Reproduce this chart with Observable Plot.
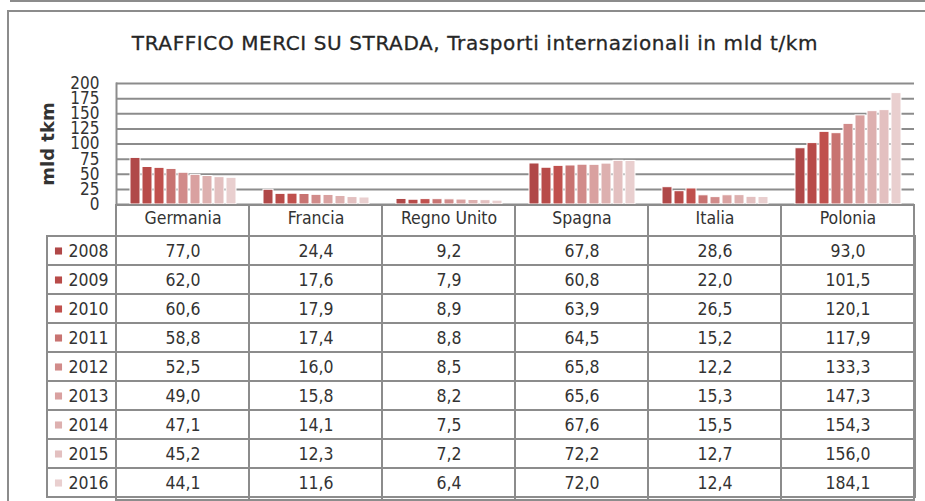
<!DOCTYPE html>
<html><head><meta charset="utf-8">
<script src="https://cdn.jsdelivr.net/npm/d3@7"></script>
<script src="https://cdn.jsdelivr.net/npm/@observablehq/plot@0.6"></script>
<style>
body{margin:0;background:#fff;font-family:"DejaVu Sans Condensed","DejaVu Sans",sans-serif;}
#wrap{position:relative;width:925px;height:501px;overflow:hidden;}
.topline{position:absolute;left:10px;top:0;width:915px;height:2px;background:#8c8c8c;}
.frame{position:absolute;left:7px;top:10px;width:930px;height:500px;border-top:2px solid #8c8c8c;border-left:2px solid #8c8c8c;}
#title{position:absolute;left:0;width:950px;top:32px;line-height:22px;text-align:center;font-family:"DejaVu Sans",sans-serif;font-size:20px;letter-spacing:0.6px;color:#262626;-webkit-text-stroke:0.3px #262626;}
#chart{position:absolute;left:0;top:70px;}
#table{position:absolute;left:0;top:204px;}
#chart g[aria-label="y-axis label"] text{font-family:"DejaVu Sans",sans-serif;font-size:18px;font-weight:bold;}
</style>
</head><body>
<div id="wrap">
<div class="topline"></div>
<div class="frame"></div>
<div id="title">TRAFFICO MERCI SU STRADA, Trasporti internazionali in mld t/km</div>
<div id="chart"></div>
<div id="table"></div>
</div>
<script>
const countries = ["Germania", "Francia", "Regno Unito", "Spagna", "Italia", "Polonia"];
const years = ["2008", "2009", "2010", "2011", "2012", "2013", "2014", "2015", "2016"];
const germania = [77.0, 62.0, 60.6, 58.8, 52.5, 49.0, 47.1, 45.2, 44.1];
const francia = [24.4, 17.6, 17.9, 17.4, 16.0, 15.8, 14.1, 12.3, 11.6];
const regnoUnito = [9.2, 7.9, 8.9, 8.8, 8.5, 8.2, 7.5, 7.2, 6.4];
const spagna = [67.8, 60.8, 63.9, 64.5, 65.8, 65.6, 67.6, 72.2, 72.0];
const italia = [28.6, 22.0, 26.5, 15.2, 12.2, 15.3, 15.5, 12.7, 12.4];
const polonia = [93.0, 101.5, 120.1, 117.9, 133.3, 147.3, 154.3, 156.0, 184.1];
const yTicks = [0, 25, 50, 75, 100, 125, 150, 175, 200];
const yearColors = ["#b04848", "#b84b49", "#c0504d", "#c87371", "#d18b8a", "#d9a1a0", "#ddb0af", "#e3c0c0", "#e9cfcf"];

const series = [germania, francia, regnoUnito, spagna, italia, polonia];
const data = [];
countries.forEach((c, i) => years.forEach((y, j) => data.push({country: c, year: y, value: series[i][j]})));

const grid = "#8c8c8c";
const ink = "#333333";
const font = "'DejaVu Sans Condensed','DejaVu Sans',sans-serif";
const fmt = v => d3.format(".1f")(v).replace(".", ",");
const color = {domain: years, range: yearColors};

const chart = Plot.plot({
  width: 925, height: 147,
  marginTop: 13, marginBottom: 13, marginLeft: 114, marginRight: 10,
  style: {fontFamily: font, fontSize: "17px", color: ink, background: "transparent"},
  fx: {domain: countries, padding: 0, axis: null},
  x: {domain: years, paddingInner: 0.18, paddingOuter: 0.85, axis: null},
  y: {domain: [0, 200], axis: null},
  color,
  marks: [
    Plot.gridY(yTicks, {stroke: grid, strokeOpacity: 1, strokeWidth: 2}),
    Plot.axisY(yTicks, {anchor: "left", tickSize: 0, tickPadding: 17, fontSize: 17, fill: ink,
      label: "mld tkm", labelAnchor: "center", labelArrow: "none", labelOffset: 75}),
    Plot.frame({anchor: "left", stroke: grid, strokeWidth: 2, facetAnchor: "left"}),
    Plot.barY(data, {fx: "country", x: "year", y: "value", fill: "year", stroke: "white", strokeWidth: 1})
  ]
});
document.getElementById("chart").appendChild(chart);

const table = Plot.plot({
  width: 925, height: 297,
  marginTop: 1, marginBottom: 1, marginLeft: 47, marginRight: 10,
  style: {fontFamily: font, fontSize: "17px", color: ink, background: "transparent"},
  x: {domain: countries, range: [114, 915], padding: 0, axis: null},
  y: {domain: years, range: [28, 296], padding: 0, axis: null},
  color,
  marks: [
    Plot.cell(years, {y: d => d, fill: "white", stroke: grid, strokeWidth: 2}),
    Plot.cell(countries, {x: d => d, fill: "none", stroke: grid, strokeWidth: 2}),
    Plot.text(countries, {x: d => d, frameAnchor: "top", lineAnchor: "middle", dy: 13, fontSize: 17.5, fill: ink}),
    Plot.text(data, {x: "country", y: "year", text: d => fmt(d.value), fontSize: 17.5, fill: ink}),
    Plot.dot(years, {y: d => d, frameAnchor: "left", dx: 11, symbol: "square", r: 4, fill: d => d, stroke: "none"}),
    Plot.text(years, {y: d => d, frameAnchor: "left", dx: 21, textAnchor: "start", fontSize: 17.5, fill: ink})
  ]
});
document.getElementById("table").appendChild(table);
</script>
</body></html>
